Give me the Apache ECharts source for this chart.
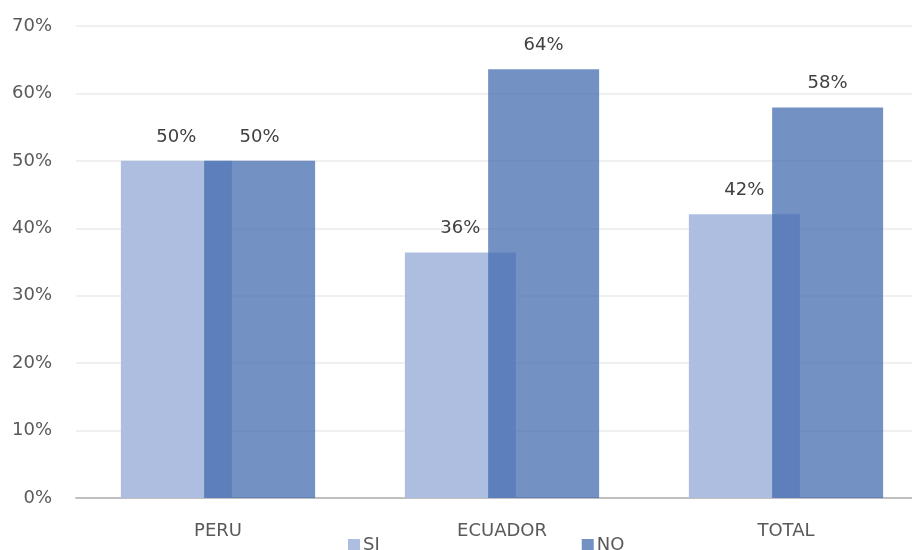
<!DOCTYPE html>
<html>
<head>
<meta charset="utf-8">
<script src="https://cdn.jsdelivr.net/npm/echarts@6/dist/echarts.min.js"></script>
<style>
  html, body { margin: 0; padding: 0; background: #fff; overflow: hidden; }
  #main { width: 928px; height: 550px; }
</style>
</head>
<body>
<div id="main"></div>
<script>
// datos del grafico
var categorias = ['PERU', 'ECUADOR', 'TOTAL'];
var valoresSi = [50, 36.4, 42.1];
var valoresNo = [50, 63.6, 57.9];
var nombresSeries = ['SI', 'NO'];

var myChart = echarts.init(document.getElementById('main'));
var fuente = '"DejaVu Sans", sans-serif';

var etiqueta = {
    show: true,
    position: 'top',
    distance: 15,
    color: '#404040',
    fontSize: 18,
    fontFamily: fuente,
    formatter: function (p) { return Math.round(p.value) + '%'; }
};

var option = {
    animation: false,
    backgroundColor: '#fff',
    // el grafico sobresale un poco a la derecha, como en el original
    grid: { left: 76, top: 26, right: 0, height: 472, containLabel: false },
    legend: {
        data: nombresSeries,
        left: 343,
        top: 531,
        itemWidth: 12,
        itemHeight: 12,
        itemGap: 202,
        icon: 'rect',
        textStyle: { color: '#595959', fontSize: 18, fontFamily: fuente, padding: [0, 0, 0, -2] }
    },
    xAxis: {
        type: 'category',
        data: categorias,
        axisLine: { lineStyle: { color: '#bfbfbf', width: 2 } },
        axisTick: { show: false },
        axisLabel: { color: '#595959', fontSize: 18, fontFamily: fuente, margin: 24 }
    },
    yAxis: {
        type: 'value',
        min: 0,
        max: 70,
        interval: 10,
        axisLine: { show: false },
        axisTick: { show: false },
        axisLabel: { color: '#595959', fontSize: 18, fontFamily: fuente, margin: 24, formatter: '{value}%' },
        splitLine: { lineStyle: { color: '#ebebeb', width: 1.5 } }
    },
    series: [
        {
            name: 'SI',
            type: 'bar',
            data: valoresSi,
            barWidth: 111,
            barGap: '-25%',
            itemStyle: { color: '#aebee1' },
            label: etiqueta
        },
        {
            name: 'NO',
            type: 'bar',
            data: valoresNo,
            barWidth: 111,
            barGap: '-25%',
            itemStyle: { color: 'rgba(62,102,173,0.72)' },
            label: etiqueta
        }
    ]
};

myChart.setOption(option);
</script>
</body>
</html>
